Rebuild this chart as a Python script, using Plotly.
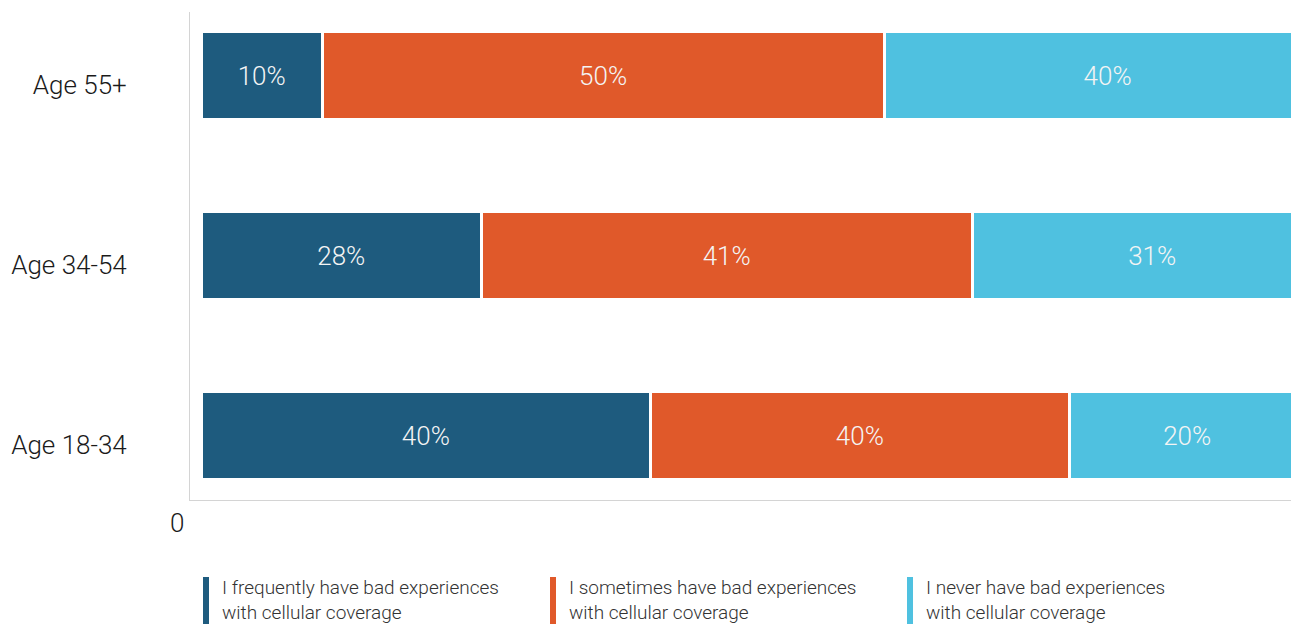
import plotly.graph_objects as go

categories = ["Age 18-34", "Age 34-54", "Age 55+"]
series_names = [
    "I frequently have bad experiences<br>with cellular coverage",
    "I sometimes have bad experiences<br>with cellular coverage",
    "I never have bad experiences<br>with cellular coverage",
]
# bar lengths as drawn
frequent_vals = [39.8, 24.8, 10.7]
sometimes_vals = [37.1, 43.5, 49.8]
never_vals = [20.9, 31.9, 39.6]
# labels printed on the bars
frequent_lbl = ["40%", "28%", "10%"]
sometimes_lbl = ["40%", "41%", "50%"]
never_lbl = ["20%", "31%", "40%"]

colors = ["#1e5b7e", "#e0592a", "#4fc1e0"]

fig = go.Figure()
for name, vals, lbl, col in zip(series_names,
                                [frequent_vals, sometimes_vals, never_vals],
                                [frequent_lbl, sometimes_lbl, never_lbl],
                                colors):
    fig.add_trace(go.Bar(
        y=categories, x=vals, orientation="h", name=name,
        marker=dict(color=col, line=dict(color="white", width=3)),
        text=lbl, textposition="inside", insidetextanchor="middle",
        textfont=dict(family="Roboto", size=26, color="#f4f4f4", weight=300),
        width=0.489, cliponaxis=True, showlegend=False, hoverinfo="skip",
    ))

# custom legend (plot area spans x 190..1291 and y 12..500 on the page)
PX0, PW, PY1, PH = 190, 1101, 500, 488
leg_x = [203, 550, 907]
for i, (name, col) in enumerate(zip(series_names, colors)):
    fig.add_shape(type="rect", xref="paper", yref="paper",
                  x0=(leg_x[i] - PX0) / PW, x1=(leg_x[i] + 6 - PX0) / PW,
                  y0=-(630 - PY1) / PH, y1=-(577 - PY1) / PH,
                  fillcolor=col, line=dict(width=0))
    fig.add_annotation(xref="paper", yref="paper",
                       x=(leg_x[i] + 17 - PX0) / PW, y=-(574 - PY1) / PH,
                       xanchor="left", yanchor="top", align="left",
                       text=name, showarrow=False,
                       font=dict(family="Roboto", size=19, color="#333333",
                                 weight=300))

fig.update_layout(
    width=1291, height=624,
    margin=dict(l=190, r=0, t=12, b=124, autoexpand=False),
    barmode="stack",
    plot_bgcolor="white", paper_bgcolor="white",
    font=dict(family="Roboto", color="#222222"),
    xaxis=dict(range=[-1.0, 96.55], showgrid=False, zeroline=False,
               showline=True, linecolor="#d4d4d4", linewidth=1,
               tickvals=[0], ticktext=["0"], ticks="",
               ticklabelshift=-24, ticklabelstandoff=0,
               tickfont=dict(family="Roboto", size=26, color="#1a1a1a",
                             weight=300)),
    yaxis=dict(range=[-0.358, 2.353], showgrid=False, zeroline=False,
               showline=True, linecolor="#d4d4d4", linewidth=1, ticks="",
               ticklabelshift=9, ticklabelstandoff=57,
               tickfont=dict(family="Roboto", size=26, color="#1a1a1a",
                             weight=300)),
)

fig.write_html("out.html",
               config={"displayModeBar": False},
               post_script="document.body.style.margin='0';"
                           "document.body.style.overflow='hidden';")
